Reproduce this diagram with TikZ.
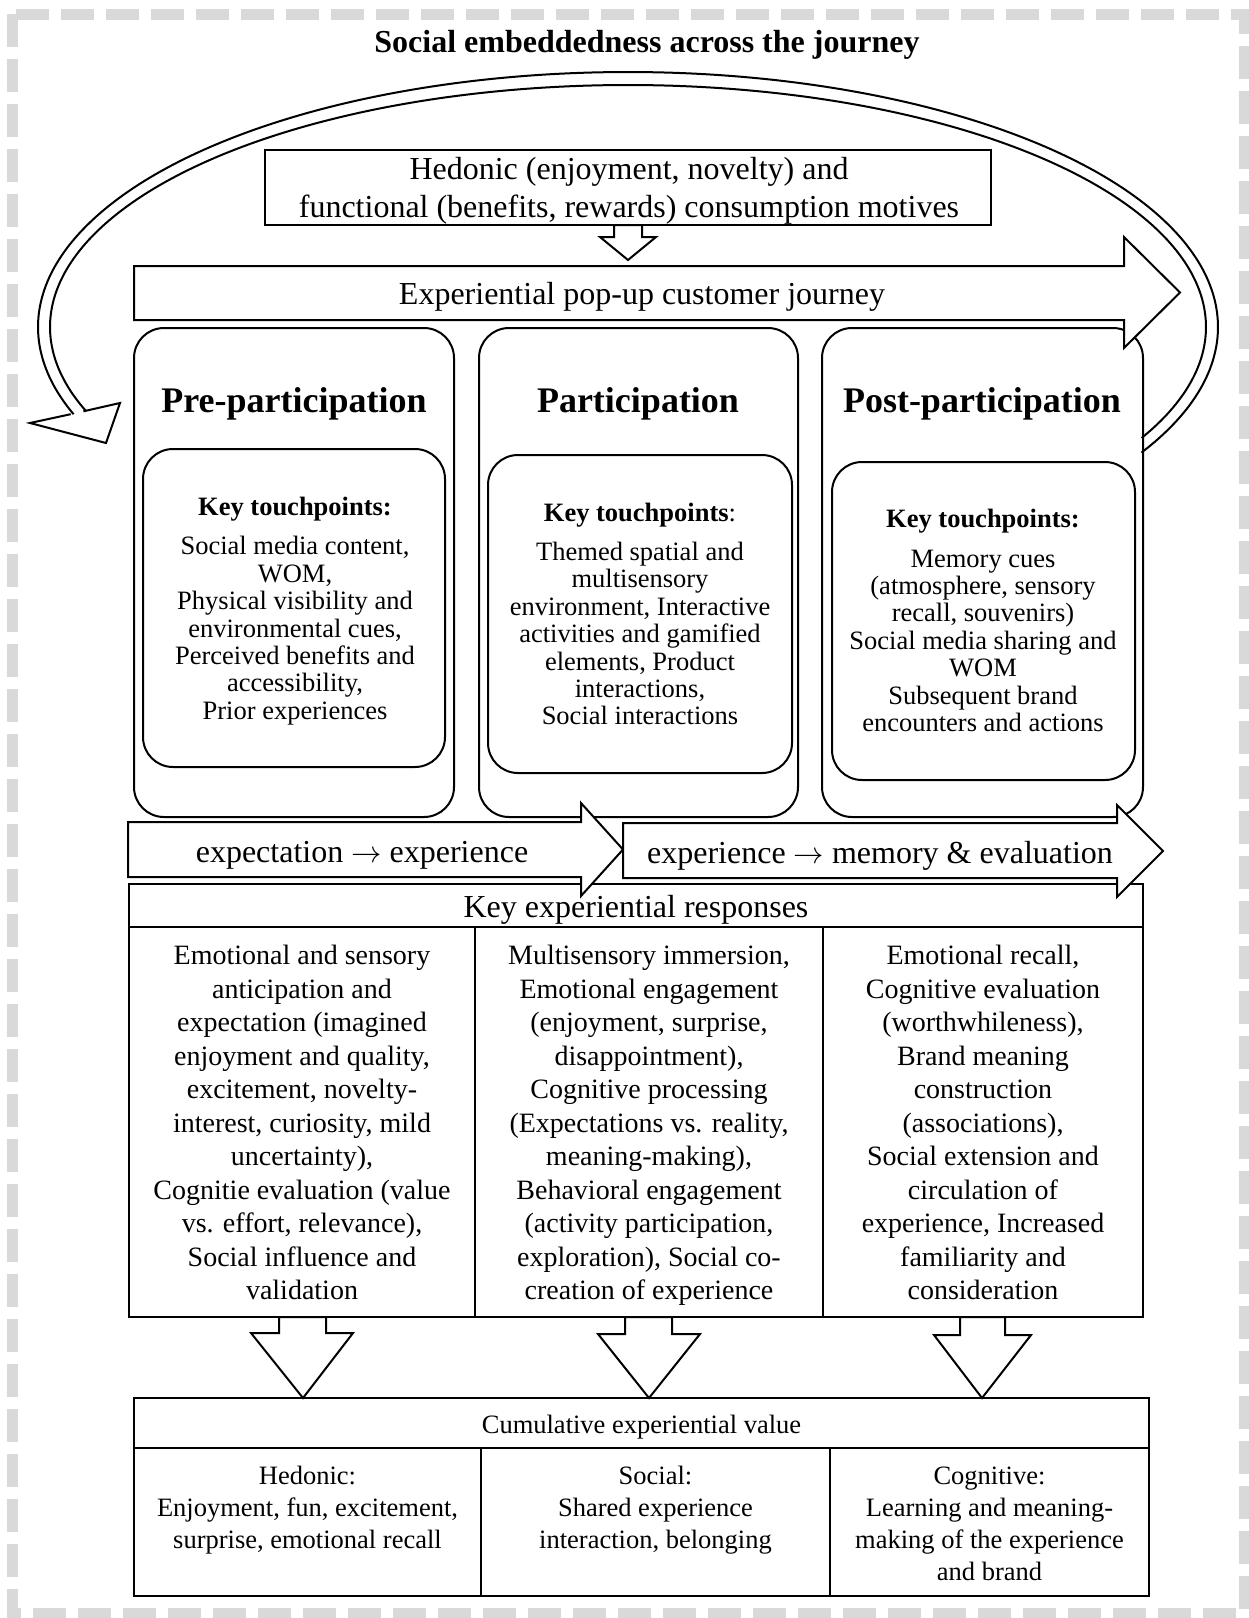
\documentclass[tikz,border=0pt]{standalone}
\usepackage{graphicx}
\usepackage{fontspec}
\setmainfont{Liberation Serif}
\newcommand{\flowarrow}{\scalebox{1.22}{$\rightarrow$}}
\tikzset{
  ln/.style={line width=2pt},
  boxsq/.style={draw, ln, inner sep=0pt, align=center},
  phasebox/.style={draw, ln, rounded corners=30pt, inner sep=0pt},
  tpbox/.style={draw, ln, rounded corners=30pt, inner sep=0pt},
  blockarrow/.style={draw, ln, fill=white, line join=miter},
  txtbig/.style={inner sep=0pt, align=center, font=\fontsize{32}{38.5}\selectfont},
  ttl/.style={inner sep=0pt, font=\fontsize{36}{40}\selectfont\bfseries},
  tptxt/.style={inner sep=0pt, align=center, font=\fontsize{26.5}{27.4}\selectfont},
  resptxt/.style={inner sep=0pt, align=center, font=\fontsize{28}{33.5}\selectfont},
  valtxt/.style={inner sep=0pt, align=center, font=\fontsize{26.5}{32}\selectfont},
}
\begin{document}
\begin{tikzpicture}[x=1pt,y=-1pt]
\useasboundingbox (0,0) rectangle (1249,1618);
% dashed frame
\draw[black!15, line width=11pt, dash pattern=on 33pt off 12pt] (12,14) rectangle (1244,1613);
% title
\node[inner sep=0pt, font=\fontsize{32}{38}\selectfont\bfseries] (title) at (647,45) {Social embeddedness across the journey};

% loop arrow (social embeddedness)
\coordinate (loopOutEnd) at (70.7,414.2);
\coordinate (loopInEnd) at (83.4,411.3);
\coordinate (loopTip) at (30,423);
\coordinate (loopWingA) at (120,403);
\coordinate (loopWingB) at (106,443);
\draw[ln] plot[domain=29.5:-200, samples=260, variable=\t] ({628+590*cos(\t)},{327+255*sin(\t)});
\draw[ln] plot[domain=27.3:-200.4, samples=260, variable=\t] ({628+578*cos(\t)},{327+242*sin(\t)});
\draw[ln, line join=miter] (loopOutEnd) -- (loopTip) -- (loopWingB) -- (loopWingA) -- (loopInEnd);

% motives box
\node[boxsq, minimum width=726, minimum height=75] (hed) at (628,187.5) {};
\node[txtbig] (hedt) at (629,191) {Hedonic (enjoyment, novelty) and\\functional (benefits, rewards) consumption motives};
\draw[blockarrow] (614,225) -- (614,237) -- (600,237) -- (628,260) -- (656,237) -- (642,237) -- (642,225) -- cycle;

% phase boxes
\node[phasebox, minimum width=320, minimum height=489] (pre) at (294,572.5) {};
\node[phasebox, minimum width=319, minimum height=489] (part) at (638.5,572.5) {};
\node[phasebox, minimum width=321, minimum height=489] (post) at (982.5,572.5) {};
\node[ttl] (preT) at (294,403.5) {Pre-participation};
\node[ttl] (partT) at (638,403.5) {Participation};
\node[ttl] (postT) at (982,403.5) {Post-participation};

% journey arrow
\draw[blockarrow] (134,266) -- (1124,266) -- (1124,237) -- (1180,292.5) -- (1124,348) -- (1124,320) -- (134,320) -- cycle;
\node[txtbig] (journey) at (642,297) {Experiential pop-up customer journey};

% touchpoint boxes
\node[tpbox, minimum width=302, minimum height=318] (preK) at (294,608) {};
\node[tpbox, minimum width=304, minimum height=318] (partK) at (640,614) {};
\node[tpbox, minimum width=303, minimum height=318] (postK) at (983.5,621) {};
\node[tptxt] (preKt) at (295,611) {\textbf{Key touchpoints:}\\[12pt]
  Social media content,\\WOM,\\Physical visibility and\\environmental cues,\\Perceived benefits and\\accessibility,\\Prior experiences};
\node[tptxt] (partKt) at (640,614) {\textbf{Key touchpoints}:\\[12pt]
  Themed spatial and\\multisensory\\environment, Interactive\\activities and gamified\\elements, Product\\interactions,\\Social interactions};
\node[tptxt] (postKt) at (983,620.5) {\textbf{Key touchpoints:}\\[12pt]
  Memory cues\\(atmosphere, sensory\\recall, souvenirs)\\Social media sharing and\\WOM\\Subsequent brand\\encounters and actions};

% key experiential responses
\node[boxsq, minimum width=1014, minimum height=43.5] (resp) at (636,905.25) {};
\node[boxsq, minimum width=346, minimum height=390] (r1) at (302,1122) {};
\node[boxsq, minimum width=348, minimum height=390] (r2) at (649,1122) {};
\node[boxsq, minimum width=320, minimum height=390] (r3) at (983,1122) {};
\node[resptxt] (r1t) at (302,1122.5) {Emotional and sensory\\anticipation and\\expectation (imagined\\enjoyment and quality,\\excitement, novelty-\\interest, curiosity, mild\\uncertainty),\\Cognitie evaluation (value\\vs. effort, relevance),\\Social influence and\\validation};
\node[resptxt] (r2t) at (649,1125.5) {Multisensory immersion,\\Emotional engagement\\(enjoyment, surprise,\\disappointment),\\Cognitive processing\\(Expectations vs. reality,\\meaning-making),\\Behavioral engagement\\(activity participation,\\exploration), Social co-\\creation of experience};
\node[resptxt] (r3t) at (983,1122.5) {Emotional recall,\\Cognitive evaluation\\(worthwhileness),\\Brand meaning\\construction\\(associations),\\Social extension and\\circulation of\\experience, Increased\\familiarity and\\consideration};

% transition arrows
\draw[blockarrow] (128,822) -- (581,822) -- (581,803) -- (623,849.5) -- (581,896) -- (581,877) -- (128,877) -- cycle;
\draw[blockarrow] (623,823) -- (1117,823) -- (1117,805) -- (1163,851) -- (1117,897) -- (1117,878) -- (623,878) -- cycle;
\node[txtbig] (tr1) at (362,855.5) {expectation \flowarrow{} experience};
\node[txtbig] (tr2) at (880,855.5) {experience \flowarrow{} memory \& evaluation};
\node[txtbig] (respt) at (636,910) {Key experiential responses};

% down arrows
\draw[blockarrow] (279,1317) -- (279,1333) -- (251,1333) -- (303,1398) -- (353,1333) -- (326,1333) -- (326,1317) -- cycle;
\draw[blockarrow] (625,1317) -- (625,1334) -- (598,1334) -- (649,1398) -- (700,1334) -- (672,1334) -- (672,1317) -- cycle;
\draw[blockarrow] (960,1317) -- (960,1335) -- (934,1335) -- (982,1398) -- (1031,1335) -- (1005,1335) -- (1005,1317) -- cycle;

% cumulative value
\node[boxsq, line width=2.4pt, minimum width=1015, minimum height=50] (cum) at (641.5,1423) {};
\node[boxsq, line width=2.4pt, minimum width=347, minimum height=148] (v1) at (307.5,1522) {};
\node[boxsq, line width=2.4pt, minimum width=349, minimum height=148] (v2) at (655.5,1522) {};
\node[boxsq, line width=2.4pt, minimum width=319, minimum height=148] (v3) at (989.5,1522) {};
\node[valtxt] (cumt) at (641.5,1427) {Cumulative experiential value};
\node[valtxt] (v1t) at (307.5,1510) {Hedonic:\\Enjoyment, fun, excitement,\\surprise, emotional recall};
\node[valtxt] (v2t) at (655.5,1510) {Social:\\Shared experience\\interaction, belonging};
\node[valtxt] (v3t) at (989.5,1524) {Cognitive:\\Learning and meaning-\\making of the experience\\and brand};
\end{tikzpicture}
\end{document}
